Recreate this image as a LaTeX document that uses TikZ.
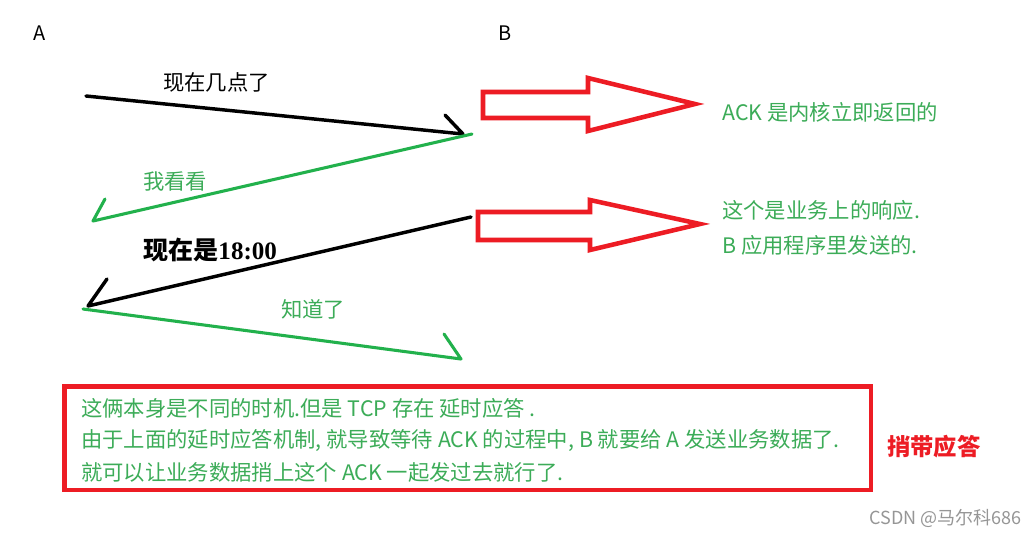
\documentclass[tikz,border=0pt]{standalone}
\usepackage{fontspec}
\setmainfont{Noto Sans CJK SC}
\newfontfamily\serifbold{Liberation Serif}
\definecolor{pgreen}{RGB}{34,177,76}
\definecolor{tgreen}{RGB}{60,172,88}
\definecolor{pred}{RGB}{237,28,36}
\definecolor{wmgray}{RGB}{150,150,150}
\tikzset{
  blackline/.style={line width=2.6pt, black, line cap=round, line join=round},
  greenline/.style={line width=2.3pt, pgreen, line cap=round, line join=round},
  hollow/.style={line width=3.4pt, pred, line join=miter},
  lbl/.style={inner sep=0pt, anchor=west, font=\fontsize{16pt}{19pt}\selectfont},
  glbl/.style={lbl, text=tgreen},
  hdr/.style={inner sep=0pt, font=\fontsize{15pt}{18pt}\selectfont}
}
\begin{document}
\begin{tikzpicture}[x=0.75pt, y=-0.75pt]
\useasboundingbox (0,0) rectangle (1036,537);
\fill[white] (0,0) rectangle (1036,537);

% endpoints
\coordinate (a1) at (86,96);
\coordinate (b1) at (463,134);
\coordinate (k1) at (445,115);
\coordinate (b2) at (472,134);
\coordinate (a2) at (93,221);
\coordinate (k2) at (105,199);
\coordinate (b3) at (471,217);
\coordinate (a3) at (88,306);
\coordinate (k3) at (107,279);
\coordinate (a4) at (83,309);
\coordinate (b4) at (461,359);
\coordinate (k4) at (444,334);

% A / B
\node[hdr] (A) at (40,33) {A};
\node[hdr] (B) at (505,33) {B};

% messages
\draw[blackline] (a1) -- (b1) -- (k1);
\draw[greenline] (b2) -- (a2) -- (k2);
\draw[blackline] (b3) -- (a3) -- (k3);
\draw[greenline] (a4) -- (b4) -- (k4);

\node[lbl] (m1) at (163,82) {现在几点了};
\node[glbl] (m2) at (143,182) {我看看};
\node[lbl, font=\fontsize{18.8pt}{22pt}\selectfont\bfseries] (m3) at (143,250) {现在是{\serifbold\bfseries 18:00}};
\node[glbl] (m4) at (281,309) {知道了};

% hollow arrows
\draw[hollow] (483,92) -- (588,92) -- (588,78) -- (695,104) -- (588,131) -- (588,118) -- (483,118) -- cycle;
\draw[hollow] (478,212) -- (590,212) -- (590,200) -- (700,224) -- (590,250) -- (590,240) -- (478,240) -- cycle;

\node[glbl] (n1) at (722,112) {ACK 是内核立即返回的};
\node[glbl] (n2) at (722,210) {这个是业务上的响应.};
\node[glbl] (n3) at (722,245) {B 应用程序里发送的.};

% bottom box
\draw[line width=3.2pt, pred] (64.5,386.5) rectangle (871,490);
\node[glbl] (p1) at (81,408) {这俩本身是不同的时机.但是 TCP 存在 延时应答 .};
\node[glbl] (p2) at (81,440) {由于上面的延时应答机制, 就导致等待 ACK 的过程中, B 就要给 A 发送业务数据了.};
\node[glbl] (p3) at (81,472) {就可以让业务数据捎上这个 ACK 一起发过去就行了.};

\node[inner sep=0pt, anchor=west, text=pred, font=\fontsize{17.5pt}{20pt}\selectfont\bfseries] (pb) at (887,447) {捎带应答};

\node[inner sep=0pt, anchor=east, text=wmgray, font=\fontsize{13.5pt}{16pt}\selectfont] (wm) at (1022,518) {CSDN @马尔科686};
\end{tikzpicture}
\end{document}
